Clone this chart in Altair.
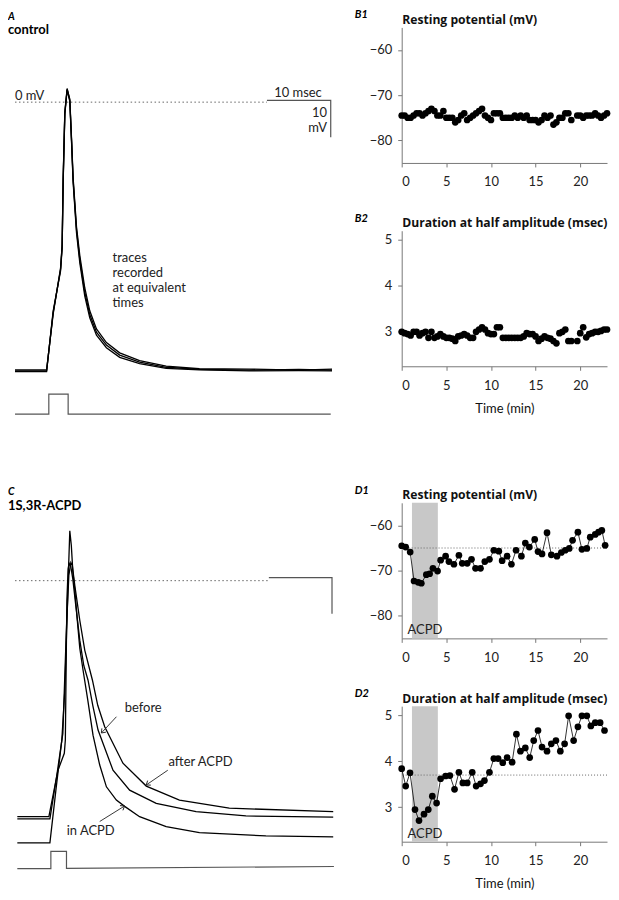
import altair as alt
import pandas as pd

FONT = "Lato"
HEAD_FONT = "Open Sans"

# ---------------- panel A: control traces (ms, mV) ----------------
a_time = [0, 4.95, 5.98, 7.14, 7.39, 7.55, 7.81, 8.17, 8.59, 8.86, 9.11, 9.64, 10.16,
          10.94, 11.72, 12.77, 14.33, 16.41, 19.53, 23.7, 28.9, 36.7, 44.5, 49.7]
a_trace1 = [-72.9, -72.9, -57.1, -45.4, -39.1, -21.1, -3.0, 3.7, 0.5, -10.3, -21.1, -34.6, -42.7,
            -51.6, -57.6, -62.4, -65.9, -68.6, -70.5, -71.9, -72.5, -72.7, -72.5, -72.7]
a_trace2 = [-72.6, -72.6, -57.5, -45.0, -38.7, -20.6, -2.6, 3.5, 0.8, -9.8, -20.5, -33.8, -41.6,
            -50.4, -56.6, -61.5, -65.2, -68.0, -70.1, -71.6, -72.3, -72.4, -72.7, -72.4]
a_trace3 = [-73.1, -73.1, -56.7, -45.8, -39.5, -21.5, -3.3, 3.3, 0.2, -10.7, -21.7, -35.4, -43.6,
            -52.6, -58.5, -63.2, -66.6, -69.2, -70.9, -72.2, -72.6, -72.9, -72.8, -72.9]
a_stim_time = [0, 5.3, 5.3, 8.33, 8.33, 49.5]
a_stim_level = [-84.6, -84.6, -79.2, -79.2, -84.6, -84.6]
a_zero_time = [0, 39.5]
a_bar_time = [39.5, 49.5, 49.5]
a_bar_level = [0.5, 0.5, -9.5]

# ---------------- panel C: 1S,3R-ACPD traces ----------------
c_in_time = [0.36, 5.47, 6.41, 7.34, 7.81, 8.28, 8.59, 8.83, 9.06, 9.38, 9.84, 10.16, 10.67,
             11.41, 12.23, 13.28, 14.33, 15.89, 17.19, 19.53, 23.7, 28.91, 39.33, 49.89]
c_in_v = [-71.1, -71.1, -56.8, -43.2, -29.7, -2.7, 13.5, 9.5, 2.7, -2.7, -12.2, -18.4, -24.3,
          -32.4, -41.9, -50.0, -55.9, -59.5, -61.2, -64.0, -66.7, -68.3, -69.2, -69.5]
c_before_time = [0.36, 5.31, 6.72, 7.73, 7.89, 8.13, 8.33, 8.48, 8.75, 9.06, 9.53, 10.16, 10.78,
                 11.45, 12.19, 13.02, 15.36, 17.97, 22.14, 28.39, 36.2, 49.89]
c_before_v = [-64.0, -64.0, -51.5, -46.8, -43.2, -5.4, 3.2, 4.7, 3.8, 0.5, -6.8, -16.2, -23.0,
              -27.0, -33.8, -40.5, -51.4, -56.8, -60.4, -62.6, -63.8, -64.1]
c_after_time = [0.36, 5.47, 6.56, 7.5, 8.05, 8.44, 8.75, 8.98, 9.38, 10.16, 10.94, 12.14, 12.97,
                14.06, 16.92, 20.58, 25.78, 33.59, 49.89]
c_after_v = [-64.6, -64.6, -52.7, -41.4, -13.5, 1.4, 4.9, 4.1, -1.4, -10.8, -18.9, -27.0, -33.8,
             -39.6, -49.5, -55.7, -59.5, -61.7, -62.6]
c_stim_time = [0.36, 5.62, 5.62, 8.07, 8.07, 50.0]
c_stim_level = [-78.1, -78.1, -73.4, -73.4, -78.0, -77.5]
c_zero_time = [0, 39.8]
c_bar_time = [39.8, 49.7, 49.7]
c_bar_level = [0.8, 0.8, -9.0]
arrow_names = ["before", "after ACPD", "in ACPD"]
arrow_tail_t = [15.9, 23.95, 13.28]
arrow_tail_v = [-36.9, -51.4, -65.3]
arrow_tip_t = [13.54, 20.57, 17.18]
arrow_tip_v = [-41.3, -55.4, -61.1]
arrow_angle = [133, 145, 328]
c_label_t = [17.2, 24.06, 8.1]
c_label_v = [-34.6, -49.2, -68.0]

# ---------------- panels B: control time course ----------------
b_time = [0, 0.33, 0.67, 1, 1.33, 1.67, 2, 2.33, 2.67, 3,
          3.33, 3.67, 4, 4.33, 4.67, 5, 5.33, 5.67, 6, 6.33,
          6.67, 7, 7.33, 7.67, 8, 8.33, 8.67, 9, 9.33, 9.67,
          10, 10.33, 10.67, 11, 11.33, 11.67, 12, 12.33, 12.67, 13,
          13.33, 13.67, 14, 14.33, 14.67, 15, 15.33, 15.67, 16, 16.33,
          16.67, 17, 17.33, 17.67, 18, 18.33, 18.67, 19, 19.67, 20,
          20.33, 20.67, 21, 21.33, 21.67, 22, 22.33, 22.67, 23]
b1_rest = [-74.5, -74.5, -75, -75, -74.5, -74, -74, -74.5, -74, -73.5,
           -73, -73.5, -74.5, -74.5, -73.5, -75, -75, -75, -76, -75.5,
           -74.5, -74, -75.5, -75, -74.5, -74, -73.5, -73, -74.5, -75,
           -75.5, -74, -74, -74, -75, -75, -75, -75, -74.5, -75,
           -74.5, -75, -74.5, -75.5, -75.5, -75.5, -76, -75.5, -74.5, -75,
           -74.5, -76.5, -76, -75, -75, -74, -74, -75.5, -74.5, -74.5,
           -75, -74.5, -74.5, -74.5, -74, -74.5, -75, -74.5, -74]
b2_dur = [3.0, 2.97, 2.95, 2.92, 3.0, 3.0, 2.92, 2.97, 3.0, 2.87,
          3.0, 2.87, 2.9, 2.95, 2.9, 2.87, 2.87, 2.85, 2.8, 2.9,
          2.92, 2.95, 2.92, 2.87, 2.87, 3.0, 3.05, 3.1, 3.05, 2.97,
          2.95, 2.95, 3.1, 3.1, 2.87, 2.87, 2.87, 2.87, 2.87, 2.87,
          2.87, 2.9, 2.97, 2.95, 2.95, 2.9, 2.8, 2.85, 2.9, 2.87,
          2.85, 2.8, 2.75, 2.97, 3.0, 3.05, 2.8, 2.8, 2.8, 2.97,
          3.1, 2.88, 2.95, 2.97, 3.0, 3.0, 3.02, 3.05, 3.05]

# ---------------- panels D: ACPD time course ----------------
d1_time = [0, 0.45, 0.95, 1.38, 1.85, 2.2, 2.76, 3.13, 3.5, 4.02, 4.36, 4.92, 5.29, 5.85, 6.41,
           6.78, 7.34, 7.82, 8.27, 8.83, 9.31, 9.83, 10.32, 10.88, 11.25, 11.81, 12.29, 12.81,
           13.41, 13.85, 14.3, 14.9, 15.27, 15.72, 16.28, 16.76, 17.39, 17.88, 18.32, 18.77,
           19.14, 19.74, 20.19, 20.74, 21.12, 21.68, 22.05, 22.42, 22.79]
d1_rest = [-64.5, -64.8, -65.9, -72.3, -72.6, -72.8, -70.9, -70.7, -69.5, -70.1, -67.7, -66.8,
           -68.0, -68.6, -66.6, -68.4, -68.4, -67.5, -69.5, -69.5, -68.0, -67.5, -65.5, -65.7,
           -67.8, -66.8, -68.6, -65.5, -66.8, -63.9, -64.8, -63.1, -65.8, -66.3, -61.6, -66.5,
           -66.8, -66.0, -65.5, -65.1, -63.3, -61.5, -65.3, -65.1, -62.6, -62.0, -61.5, -61.1, -64.4]
d2_time = [0, 0.45, 0.93, 1.49, 1.94, 2.5, 2.98, 3.43, 3.91, 4.36, 4.92, 5.4, 5.92, 6.41, 6.85,
           7.34, 7.9, 8.34, 8.83, 9.27, 9.83, 10.32, 10.8, 11.32, 11.81, 12.37, 12.85, 13.3,
           13.85, 14.34, 14.79, 15.27, 15.72, 16.28, 16.76, 17.28, 17.77, 18.25, 18.7, 19.26,
           19.74, 20.19, 20.74, 21.19, 21.68, 22.23, 22.72]
d2_dur = [3.84, 3.46, 3.75, 2.95, 2.71, 2.85, 2.95, 3.24, 3.09, 3.62, 3.68, 3.69, 3.39, 3.76,
          3.53, 3.53, 3.76, 3.46, 3.51, 3.58, 3.76, 4.06, 4.06, 3.97, 4.08, 3.98, 4.59, 4.22,
          4.29, 4.08, 4.45, 4.67, 4.31, 4.22, 4.38, 4.45, 4.22, 4.38, 4.99, 4.45, 4.75, 4.99,
          4.99, 4.77, 4.84, 4.84, 4.67]
acpd_start = [1.15]
acpd_end = [4.05]
d1_reference = [-65]
d2_reference = [3.7]

TRACE_X = alt.Scale(domain=[-1.1, 50], nice=False, zero=False)
TRACE_W = 327


def series(name, ts, vs):
    return pd.DataFrame({"trace": name, "t": ts, "v": vs, "i": list(range(len(ts)))})


def trace_panel(traces, stim, zero_t, bar_t, bar_v, ydom, height, title, subtitle, offset,
                left_texts, right_texts, arrows=None):
    ys = alt.Scale(domain=ydom, nice=False, zero=False)
    X = lambda f: alt.X(f, type="quantitative", scale=TRACE_X, axis=None)
    Y = lambda f: alt.Y(f, type="quantitative", scale=ys, axis=None)
    layers = []
    layers.append(alt.Chart(pd.DataFrame({"t": zero_t, "v": [0, 0]})).mark_line(
        color="#666", strokeWidth=1, strokeDash=[1.5, 2.5]).encode(x=X("t"), y=Y("v")))
    layers.append(alt.Chart(series("bar", bar_t, bar_v)).mark_line(
        color="#555", strokeWidth=1.2).encode(x=X("t"), y=Y("v"), order="i:Q"))
    layers.append(alt.Chart(stim).mark_line(color="#555", strokeWidth=1.2).encode(
        x=X("t"), y=Y("v"), order="i:Q"))
    layers.append(alt.Chart(traces).mark_line(color="black", strokeWidth=1.3).encode(
        x=X("t"), y=Y("v"), detail="trace:N", order="i:Q"))
    if left_texts is not None:
        layers.append(alt.Chart(left_texts).mark_text(
            align="left", baseline="middle", font=FONT, fontSize=13, color="#222",
            lineBreak="\n", lineHeight=15).encode(x=X("t"), y=Y("v"), text="label:N"))
    if right_texts is not None:
        layers.append(alt.Chart(right_texts).mark_text(
            align="right", baseline="middle", font=FONT, fontSize=13, color="#222").encode(
            x=X("t"), y=Y("v"), text="label:N"))
    if arrows is not None:
        layers.append(alt.Chart(arrows).mark_rule(color="#222", strokeWidth=0.9).encode(
            x=X("t0"), y=Y("v0"), x2="t1:Q", y2="v1:Q"))
        layers.append(alt.Chart(arrows).mark_point(
            shape="M0,0L-1,-0.75M0,0L-1,0.75", filled=False, color="#222", strokeWidth=0.9,
            size=55, opacity=1).encode(
            x=X("t1"), y=Y("v1"), angle=alt.Angle("ang:Q", scale=None)))
    return alt.layer(*layers).properties(
        width=TRACE_W, height=height,
        title=alt.TitleParams(text=title, subtitle=subtitle, anchor="start", font=FONT,
                              fontSize=10.5, fontWeight="bold", fontStyle="italic",
                              color="black", subtitleFont=FONT, subtitleFontSize=13,
                              subtitleFontWeight="bold", subtitleColor="black",
                              subtitlePadding=2, offset=offset))


a_traces = pd.concat([series("1", a_time, a_trace1), series("2", a_time, a_trace2),
                      series("3", a_time, a_trace3)])
a_stim = series("stim", a_stim_time, a_stim_level)
a_left = pd.DataFrame({"t": [0.0, 15.3], "v": [1.6, -42.4],
                       "label": ["0 mV", "traces\nrecorded\nat equivalent\ntimes"]})
a_right = pd.DataFrame({"t": [48.1, 48.9, 48.9], "v": [2.4, -3.0, -7.0],
                        "label": ["10 msec", "10", "mV"]})
panel_a = trace_panel(a_traces, a_stim, a_zero_time, a_bar_time, a_bar_level,
                      [-86.5, 20.27], 395, "A", "control", -10, a_left, a_right)

c_traces = pd.concat([series("in", c_in_time, c_in_v), series("before", c_before_time, c_before_v),
                      series("after", c_after_time, c_after_v)])
c_stim = series("stim", c_stim_time, c_stim_level)
c_left = pd.DataFrame({"t": c_label_t, "v": c_label_v, "label": arrow_names})
c_arrows = pd.DataFrame({"name": arrow_names, "t0": arrow_tail_t, "v0": arrow_tail_v,
                         "t1": arrow_tip_t, "v1": arrow_tip_v, "ang": arrow_angle})
panel_c = trace_panel(c_traces, c_stim, c_zero_time, c_bar_time, c_bar_level,
                      [-79.7, 15.7], 353, "C", "1S,3R-ACPD", 10, c_left, None, c_arrows)

# ---------------- scatter panels ----------------
TIME_X = alt.Scale(domain=[0, 23], nice=False, zero=False)


def scatter_panel(ts, vs, ylab, ydom, yvals, letter, xtitle, band=False, ref=None,
                  connect=False):
    ys = alt.Scale(domain=ydom, nice=False, zero=False)
    xaxis = alt.Axis(values=[0, 5, 10, 15, 20], format="d", title=xtitle, tickSize=4,
                     labelPadding=9, labelFontSize=13, titleFontSize=13,
                     titleFontWeight="normal", titlePadding=10)
    yaxis = alt.Axis(values=yvals, format="d", title=ylab, tickSize=4, labelPadding=6,
                     labelFontSize=13, titleAngle=0, titleAlign="left", titleX=0, titleY=-4,
                     titleBaseline="alphabetic", titleFont=HEAD_FONT, titleFontWeight="bold",
                     titleFontSize=12.2)
    X = lambda f: alt.X(f, type="quantitative", scale=TIME_X, axis=xaxis)
    Y = lambda f: alt.Y(f, type="quantitative", scale=ys, axis=yaxis)
    df = pd.DataFrame({"t": ts, "v": vs})
    layers = []
    if band:
        bdf = pd.DataFrame({"start": acpd_start, "end": acpd_end, "label": ["ACPD"]})
        layers.append(alt.Chart(bdf).mark_rect(color="#c8c8c8").encode(
            x=X("start"), x2="end:Q"))
        layers.append(alt.Chart(bdf).transform_calculate(
            mid="(datum.start + datum.end) / 2").mark_text(
            font=FONT, fontSize=13, color="#222", baseline="middle").encode(
            x=X("mid"), y=alt.value(128), text="label:N"))
    if ref is not None:
        layers.append(alt.Chart(pd.DataFrame({"v": ref})).mark_rule(
            color="#666", strokeWidth=1, strokeDash=[1, 2]).encode(y=Y("v")))
    if connect:
        layers.append(alt.Chart(df).mark_line(color="black", strokeWidth=0.8).encode(
            x=X("t"), y=Y("v")))
    layers.append(alt.Chart(df).mark_circle(size=45, color="black", opacity=1).encode(
        x=X("t"), y=Y("v")))
    layers.append(alt.Chart(pd.DataFrame({"label": [letter]})).mark_text(
        font=FONT, fontSize=11, fontWeight="bold", fontStyle="italic", color="black",
        align="left", baseline="alphabetic").encode(
        x=alt.value(-47), y=alt.value(-9), text="label:N"))
    return alt.layer(*layers).properties(width=206, height=136)


panel_b1 = scatter_panel(b_time, b1_rest, "Resting potential (mV)", [-85, -55], [-60, -70, -80],
                         "B1", None)
panel_b2 = scatter_panel(b_time, b2_dur, "Duration at half amplitude (msec)", [2.25, 5.2],
                         [3, 4, 5], "B2", "Time (min)")
panel_d1 = scatter_panel(d1_time, d1_rest, "Resting potential (mV)", [-85, -55], [-60, -70, -80],
                         "D1", None, band=True, ref=d1_reference, connect=True)
panel_d2 = scatter_panel(d2_time, d2_dur, "Duration at half amplitude (msec)", [2.25, 5.2],
                         [3, 4, 5], "D2", "Time (min)", band=True, ref=d2_reference,
                         connect=True)
# empty 1px-high spacer that doubles the gap between the B and D rows
spacer = alt.Chart(pd.DataFrame({"s": [0]})).mark_point(opacity=0).encode(
    x=alt.value(0), y=alt.value(0)).properties(width=206, height=1)

left = alt.vconcat(panel_a, panel_c, spacing=102, bounds="flush")
right = alt.vconcat(panel_b1, panel_b2, spacer, panel_d1, panel_d2, spacing=68,
                    bounds="flush")

chart = alt.hconcat(left, right, spacing=18, padding=0,
                    background="white").configure_view(stroke=None).configure_axis(
    labelFont=FONT, titleFont=FONT, domainColor="#777", tickColor="#777",
    labelColor="#222", titleColor="#111", grid=False)

chart.save("out.html", embed_options={"renderer": "svg", "actions": False})
